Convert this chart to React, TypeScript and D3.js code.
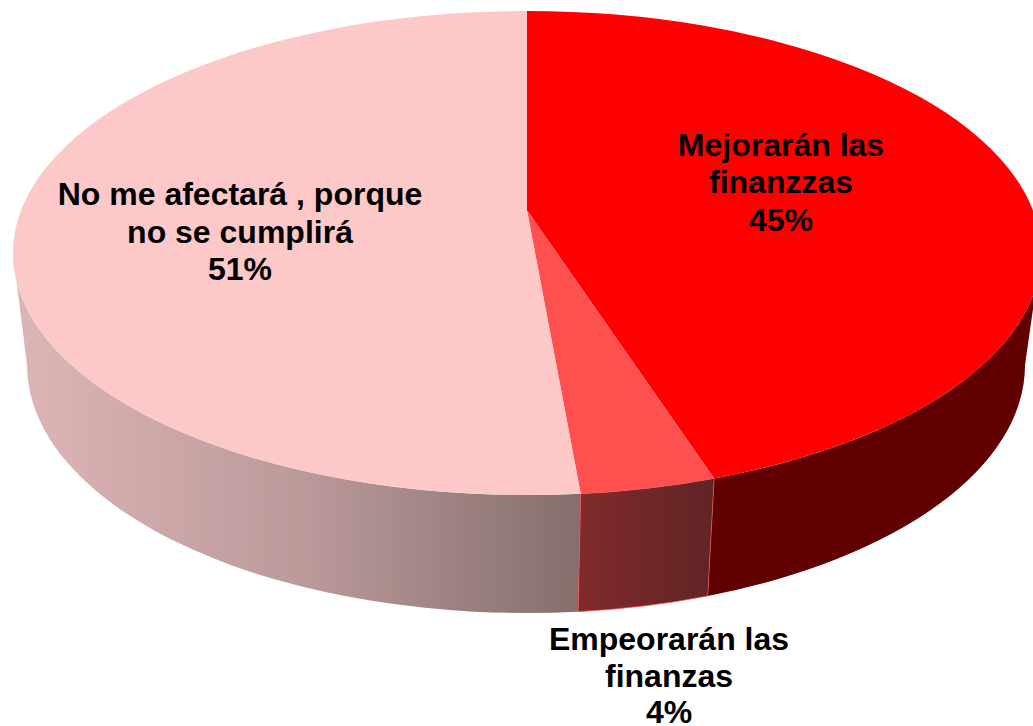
import React from "react";
import * as d3 from "d3";

const categories = ["Mejorarán las finanzzas", "Empeorarán las finanzas", "No me afectará , porque no se cumplirá"];
const values = [45, 3.6, 51.4];
const percentLabels = ["45%", "4%", "51%"];
const topColors = ["#ff0000", "#ff5050", "#fcc8c8"];
const labelLines = [
  ["Mejorarán las", "finanzzas", "45%"],
  ["Empeorarán las", "finanzas", "4%"],
  ["No me afectará , porque", "no se cumplirá", "51%"],
];
const labelCenters: [number, number][] = [[781, 155.5], [669, 650], [240, 205]];
const lineGaps = [37.5, 36.5, 37.5];

const W = 1033, H = 726;
const top = { cx: 527, cy: 253, rx: 514, ry: 242 };
const bottom = { cx: 526, cy: 365, rx: 499, ry: 248 };
const k = 0.84; // perspective squeeze of the tilted disc

// true pie angle -> angle on the projected ellipse
const project = (a: number) => {
  if (Math.abs(a - Math.PI) < 1e-6) return a;
  if (Math.abs(a - 2 * Math.PI) < 1e-6) return 2 * Math.PI;
  if (Math.abs(a) < 1e-6) return 0;
  const t = 2 * Math.atan(k * Math.tan(a / 2));
  return t < 0 ? t + 2 * Math.PI : t;
};
const pt = (e: typeof top, t: number): [number, number] => [e.cx + e.rx * Math.sin(t), e.cy - e.ry * Math.cos(t)];
const apex: [number, number] = [527, pt(top, project(Math.PI / 2))[1] - 1];

const arcTo = (e: typeof top, t0: number, t1: number) => {
  const [x, y] = pt(e, t1);
  const large = Math.abs(t1 - t0) > Math.PI ? 1 : 0;
  const sweep = t1 > t0 ? 1 : 0;
  return `A${e.rx},${e.ry} 0 ${large} ${sweep} ${x},${y}`;
};

const wallPath = (t0: number, t1: number) => {
  const a = pt(top, t0), b = pt(bottom, t1);
  return `M${a[0]},${a[1]} ${arcTo(top, t0, t1)} L${b[0]},${b[1]} ${arcTo(bottom, t1, t0)} Z`;
};

export default function App() {
  const arcs = d3.pie<number>().sort(null)(values);
  const ang = arcs.map((d) => [project(d.startAngle), project(d.endAngle)]);
  const slices = ang.map(([t0, t1]) => {
    const a = pt(top, t0);
    return `M${apex[0]},${apex[1]} L${a[0]},${a[1]} ${arcTo(top, t0, t1)} Z`;
  });
  const redWall = wallPath(Math.PI / 2, ang[0][1]);
  const midWall = wallPath(ang[1][0], ang[1][1]);
  const pinkWall = wallPath(ang[2][0], (3 * Math.PI) / 2);
  return (
    <svg width={W} height={H} viewBox={`0 0 ${W} ${H}`} style={{ position: "absolute", left: 0, top: 0 }}>
      <defs>
        <linearGradient id="pinkWall" gradientUnits="userSpaceOnUse" x1="27" x2="578" y1="0" y2="0">
          <stop offset="0" stopColor="#dcb4b5" />
          <stop offset="0.5" stopColor="#bb9a9a" />
          <stop offset="1" stopColor="#866e6e" />
        </linearGradient>
        <linearGradient id="midWall" gradientUnits="userSpaceOnUse" x1="578" x2="715" y1="0" y2="0">
          <stop offset="0" stopColor="#812a2b" />
          <stop offset="1" stopColor="#602425" />
        </linearGradient>
      </defs>
      <path d={pinkWall} fill="url(#pinkWall)" />
      <path d={redWall} fill="#600000" />
      <path d={midWall} fill="url(#midWall)" stroke="#ff5050" strokeWidth={0.7} />
      {slices.map((d, i) => (
        <path key={categories[i]} d={d} fill={topColors[i]} />
      ))}
      {labelLines.map((lines, i) => (
        <text key={percentLabels[i]} fontFamily="'Liberation Sans', Arial, sans-serif" fontWeight="700" fontSize={32} fill="#000" textAnchor="middle">
          {lines.map((l, j) => (
            <tspan key={j} x={labelCenters[i][0]} y={labelCenters[i][1] + j * lineGaps[i]}>{l}</tspan>
          ))}
        </text>
      ))}
    </svg>
  );
}
